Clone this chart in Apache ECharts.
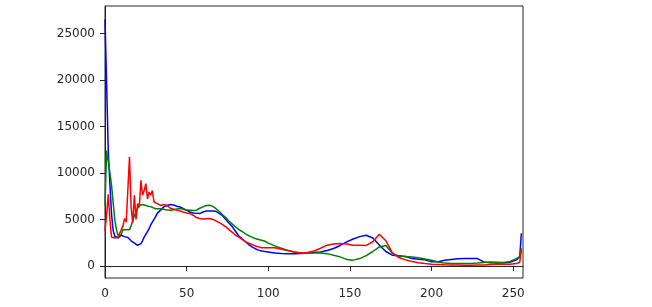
<!DOCTYPE html>
<html>
<head>
<meta charset="utf-8">
<script src="https://cdn.jsdelivr.net/npm/echarts@6/dist/echarts.min.js"></script>
<style>
html,body{margin:0;padding:0;background:#fff;}
#c{width:652px;height:307px;}
</style>
</head>
<body>
<div id="c"></div>
<script>
// Shared x grid (pixel intensity bins)
const xs = [
  0,1,2,3,4,5,6,7,8,9,
  10,11,12,13,14,15,16,17,18,19,
  20,21,22,23,24,25,26,27,28,29,
  30,31,32,34,36,38,40,42,44,46,
  48,50,52,54,56,58,60,62,64,66,
  68,70,72,74,76,78,80,82,84,86,
  88,90,92,94,96,98,100,104,108,112,
  116,120,124,128,132,136,140,144,148,152,
  156,160,164,168,172,176,180,184,188,192,
  196,200,204,208,212,216,220,224,228,232,
  236,240,244,248,252,253,254,255
];
const blueVals = [
  26500,19500,12400,8800,5600,3800,3200,3000,3000,3200,
  3300,3250,3150,3100,3050,2900,2700,2600,2450,2300,
  2200,2150,2400,2700,3100,3400,3700,4000,4400,4700,
  5000,5300,5650,6000,6350,6500,6600,6550,6420,6340,
  6150,5990,5800,5700,5650,5630,5800,5900,5910,5900,
  5870,5650,5400,5000,4600,4200,3700,3200,2900,2600,
  2300,2050,1850,1700,1600,1550,1500,1400,1330,1320,
  1320,1330,1380,1430,1500,1650,1870,2200,2580,2900,
  3150,3300,3000,2250,1550,1150,1080,1000,800,720,
  650,450,450,600,700,780,790,790,790,430,
  350,320,320,380,650,800,1000,3500
];
const greenVals = [
  6500,12400,12200,10000,8700,6800,5000,3900,3300,3100,
  3400,3900,4100,3900,3800,3900,4300,4900,5400,5800,
  6200,6500,6600,6600,6550,6500,6450,6400,6350,6300,
  6200,6150,6100,6150,6100,6000,5990,6050,6120,6170,
  6100,6000,5990,5950,5990,6200,6350,6500,6530,6400,
  6150,5850,5500,5200,4800,4500,4200,3900,3700,3450,
  3250,3100,2950,2850,2750,2650,2450,2150,1900,1650,
  1500,1400,1400,1400,1380,1320,1150,970,700,620,
  790,1100,1550,2040,2200,1350,1050,1000,950,880,
  750,600,420,300,260,250,250,270,300,360,
  420,400,380,480,790,900,1000,1900
];
const redVals = [
  3800,5500,7700,5000,3100,2950,3000,2900,3100,3500,
  3900,4300,5100,4700,4500,11700,6300,4600,7600,5000,
  6700,6300,9200,7600,8100,8850,7200,7950,7600,8100,
  6900,6700,6700,6500,6600,6500,6200,6100,6000,5910,
  5800,5700,5630,5450,5200,5090,5050,5080,5090,5000,
  4840,4650,4450,4200,3900,3600,3300,3100,2850,2600,
  2450,2300,2150,2050,1950,1950,1950,1950,1800,1650,
  1500,1400,1450,1610,1900,2230,2350,2400,2350,2230,
  2230,2200,2600,3400,2700,1400,900,650,480,350,
  250,180,150,120,100,90,80,80,90,100,
  150,170,180,180,250,300,400,1700
];
const xTicks = [0,50,100,150,200,250];
const yTicks = [0,5000,10000,15000,20000,25000];

function pairs(vals){ return xs.map((x,i)=>[x, vals[i]]); }

const chart = echarts.init(document.getElementById('c'), null, {renderer:'canvas'});
const font = {fontFamily:'DejaVu Sans', fontSize:12, color:'#262626', formatter:v=>String(v)};
const axisLine = {show:true, lineStyle:{color:'#262626', width:1}};
chart.setOption({
  animation:false,
  grid:{left:105, top:6, right:129, bottom:29, show:true, borderColor:'#262626', borderWidth:1, backgroundColor:'transparent'},
  xAxis:{
    type:'value', min:0, max:256,
    axisLine:axisLine,
    axisTick:{show:true, length:5, lineStyle:{color:'#262626'}, customValues:xTicks},
    axisLabel:Object.assign({margin:10, customValues:xTicks}, font),
    splitLine:{show:false}
  },
  yAxis:{
    type:'value', min:-1300, max:27950,
    axisLine:axisLine,
    axisTick:{show:true, length:5, lineStyle:{color:'#262626'}, customValues:yTicks},
    axisLabel:Object.assign({margin:10, customValues:yTicks}, font),
    splitLine:{show:false}
  },
  series:[
    {type:'line', data:pairs(blueVals), showSymbol:false, lineStyle:{color:'#0000ff', width:1.5}, itemStyle:{color:'#0000ff'}},
    {type:'line', data:pairs(greenVals), showSymbol:false, lineStyle:{color:'#008000', width:1.5}, itemStyle:{color:'#008000'}},
    {type:'line', data:pairs(redVals), showSymbol:false, lineStyle:{color:'#ff0000', width:1.5}, itemStyle:{color:'#ff0000'}}
  ]
});
</script>
</body>
</html>
